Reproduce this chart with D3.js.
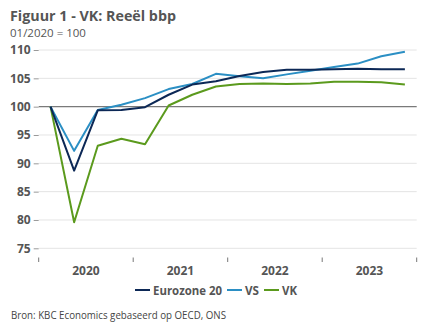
<!DOCTYPE html>
<html><head><meta charset="utf-8">
<script src="https://cdn.jsdelivr.net/npm/d3@7"></script>
<style>body{margin:0;background:#fff}svg{display:block}text{font-family:"Open Sans",sans-serif}</style>
</head><body>
<svg id="c" width="432" height="334"></svg>
<script>
const quarters = ["2020Q1","2020Q2","2020Q3","2020Q4","2021Q1","2021Q2","2021Q3","2021Q4","2022Q1","2022Q2","2022Q3","2022Q4","2023Q1","2023Q2","2023Q3","2023Q4"];
const years = ["2020","2021","2022","2023"];
const eurozone = [100,88.7,99.35,99.4,99.9,102.1,103.9,104.5,105.4,106.1,106.5,106.5,106.6,106.7,106.6,106.6];
const vs = [100,92.2,99.4,100.35,101.5,103.1,104.0,105.8,105.35,105.0,105.7,106.35,107.0,107.6,108.9,109.7];
const vk = [100,79.6,93.1,94.35,93.35,100.2,102.1,103.55,104.0,104.1,104.0,104.1,104.4,104.4,104.3,103.9];
const yTicks = [75,80,85,90,95,100,105,110];
const seriesNames = ["Eurozone 20","VS","VK"];
const colors = ["#0c2856","#2b8fc4","#5b9a1d"];

const svg = d3.select("#c");
const L = 38.7, R = 416.7, T = 50, B = 248.3;
const y = d3.scaleLinear().domain([75,110]).range([B,T]);
const xb = d3.scaleBand().domain(quarters).range([L,R]);
const xy = d3.scaleBand().domain(years).range([L,R]);

function fitText(sel, w){ const n=sel.node(); const cur=n.getComputedTextLength(); if(cur>w){ sel.attr("textLength",w).attr("lengthAdjust","spacingAndGlyphs"); } }

// title
svg.append("text").attr("x",10).attr("y",20.5).attr("font-size",14.5).attr("font-weight","bold").attr("fill","#555").text("Figuur 1 - VK: Reeël bbp").call(fitText,166);
svg.append("text").attr("x",10).attr("y",36.5).attr("font-size",11.5).attr("fill","#555").text("01/2020 = 100").call(fitText,78);

// gridlines
const g = svg.append("g");
g.selectAll("line.grid").data(yTicks).join("line")
  .attr("x1",L).attr("x2",R)
  .attr("y1",d=>y(d)).attr("y2",d=>y(d))
  .attr("stroke",d=>d===100?"#7a7a7a":"#e4e4e4").attr("stroke-width",d=>d===100?1.2:1);

// y axis
const ya = d3.axisLeft(y).tickValues(yTicks).tickSize(5).tickPadding(3);
const yg = svg.append("g").attr("transform",`translate(${L},0)`).call(ya);
yg.select(".domain").remove();
yg.selectAll(".tick line").attr("stroke","#999");
yg.selectAll(".tick text").attr("font-size",12).attr("font-weight","bold").attr("fill","#555").attr("font-family","'Open Sans',sans-serif");

// x axis ticks
const xTickPos = years.map(d=>xy(d)).concat([R]);
svg.append("g").selectAll("line").data(xTickPos).join("line")
  .attr("x1",d=>d).attr("x2",d=>d).attr("y1",257.5).attr("y2",262)
  .attr("stroke","#777").attr("stroke-width",1);
svg.append("g").selectAll("text").data(years).join("text")
  .attr("x",d=>xy(d)+xy.bandwidth()/2).attr("y",275).attr("text-anchor","middle")
  .attr("font-size",12).attr("font-weight","bold").attr("fill","#555").text(d=>d);

// lines
const line = d3.line().x((d,i)=>xb(quarters[i])+xb.bandwidth()/2).y(d=>y(d));
[vk,vs,eurozone].forEach((s)=>{
  const i = s===eurozone?0:(s===vs?1:2);
  svg.append("path").datum(s).attr("d",line).attr("fill","none")
    .attr("stroke",colors[i]).attr("stroke-width",2).attr("stroke-linejoin","round");
});

// legend
const leg = svg.append("g");
const legTextW = [69,14,15];
let lx = 135;
seriesNames.forEach((n,i)=>{
  leg.append("line").attr("x1",lx).attr("x2",lx+15).attr("y1",290).attr("y2",290)
    .attr("stroke",colors[i]).attr("stroke-width",2);
  const t = leg.append("text").attr("x",lx+18).attr("y",294.5).attr("font-size",12).attr("font-weight","bold").attr("fill","#555").text(n);
  fitText(t, legTextW[i]);
  lx += 18 + legTextW[i] + 5;
});
svg.append("text").attr("x",11).attr("y",318.5).attr("font-size",10).attr("fill","#444").text("Bron: KBC Economics gebaseerd op OECD, ONS").call(fitText,215);
</script>
</body></html>
